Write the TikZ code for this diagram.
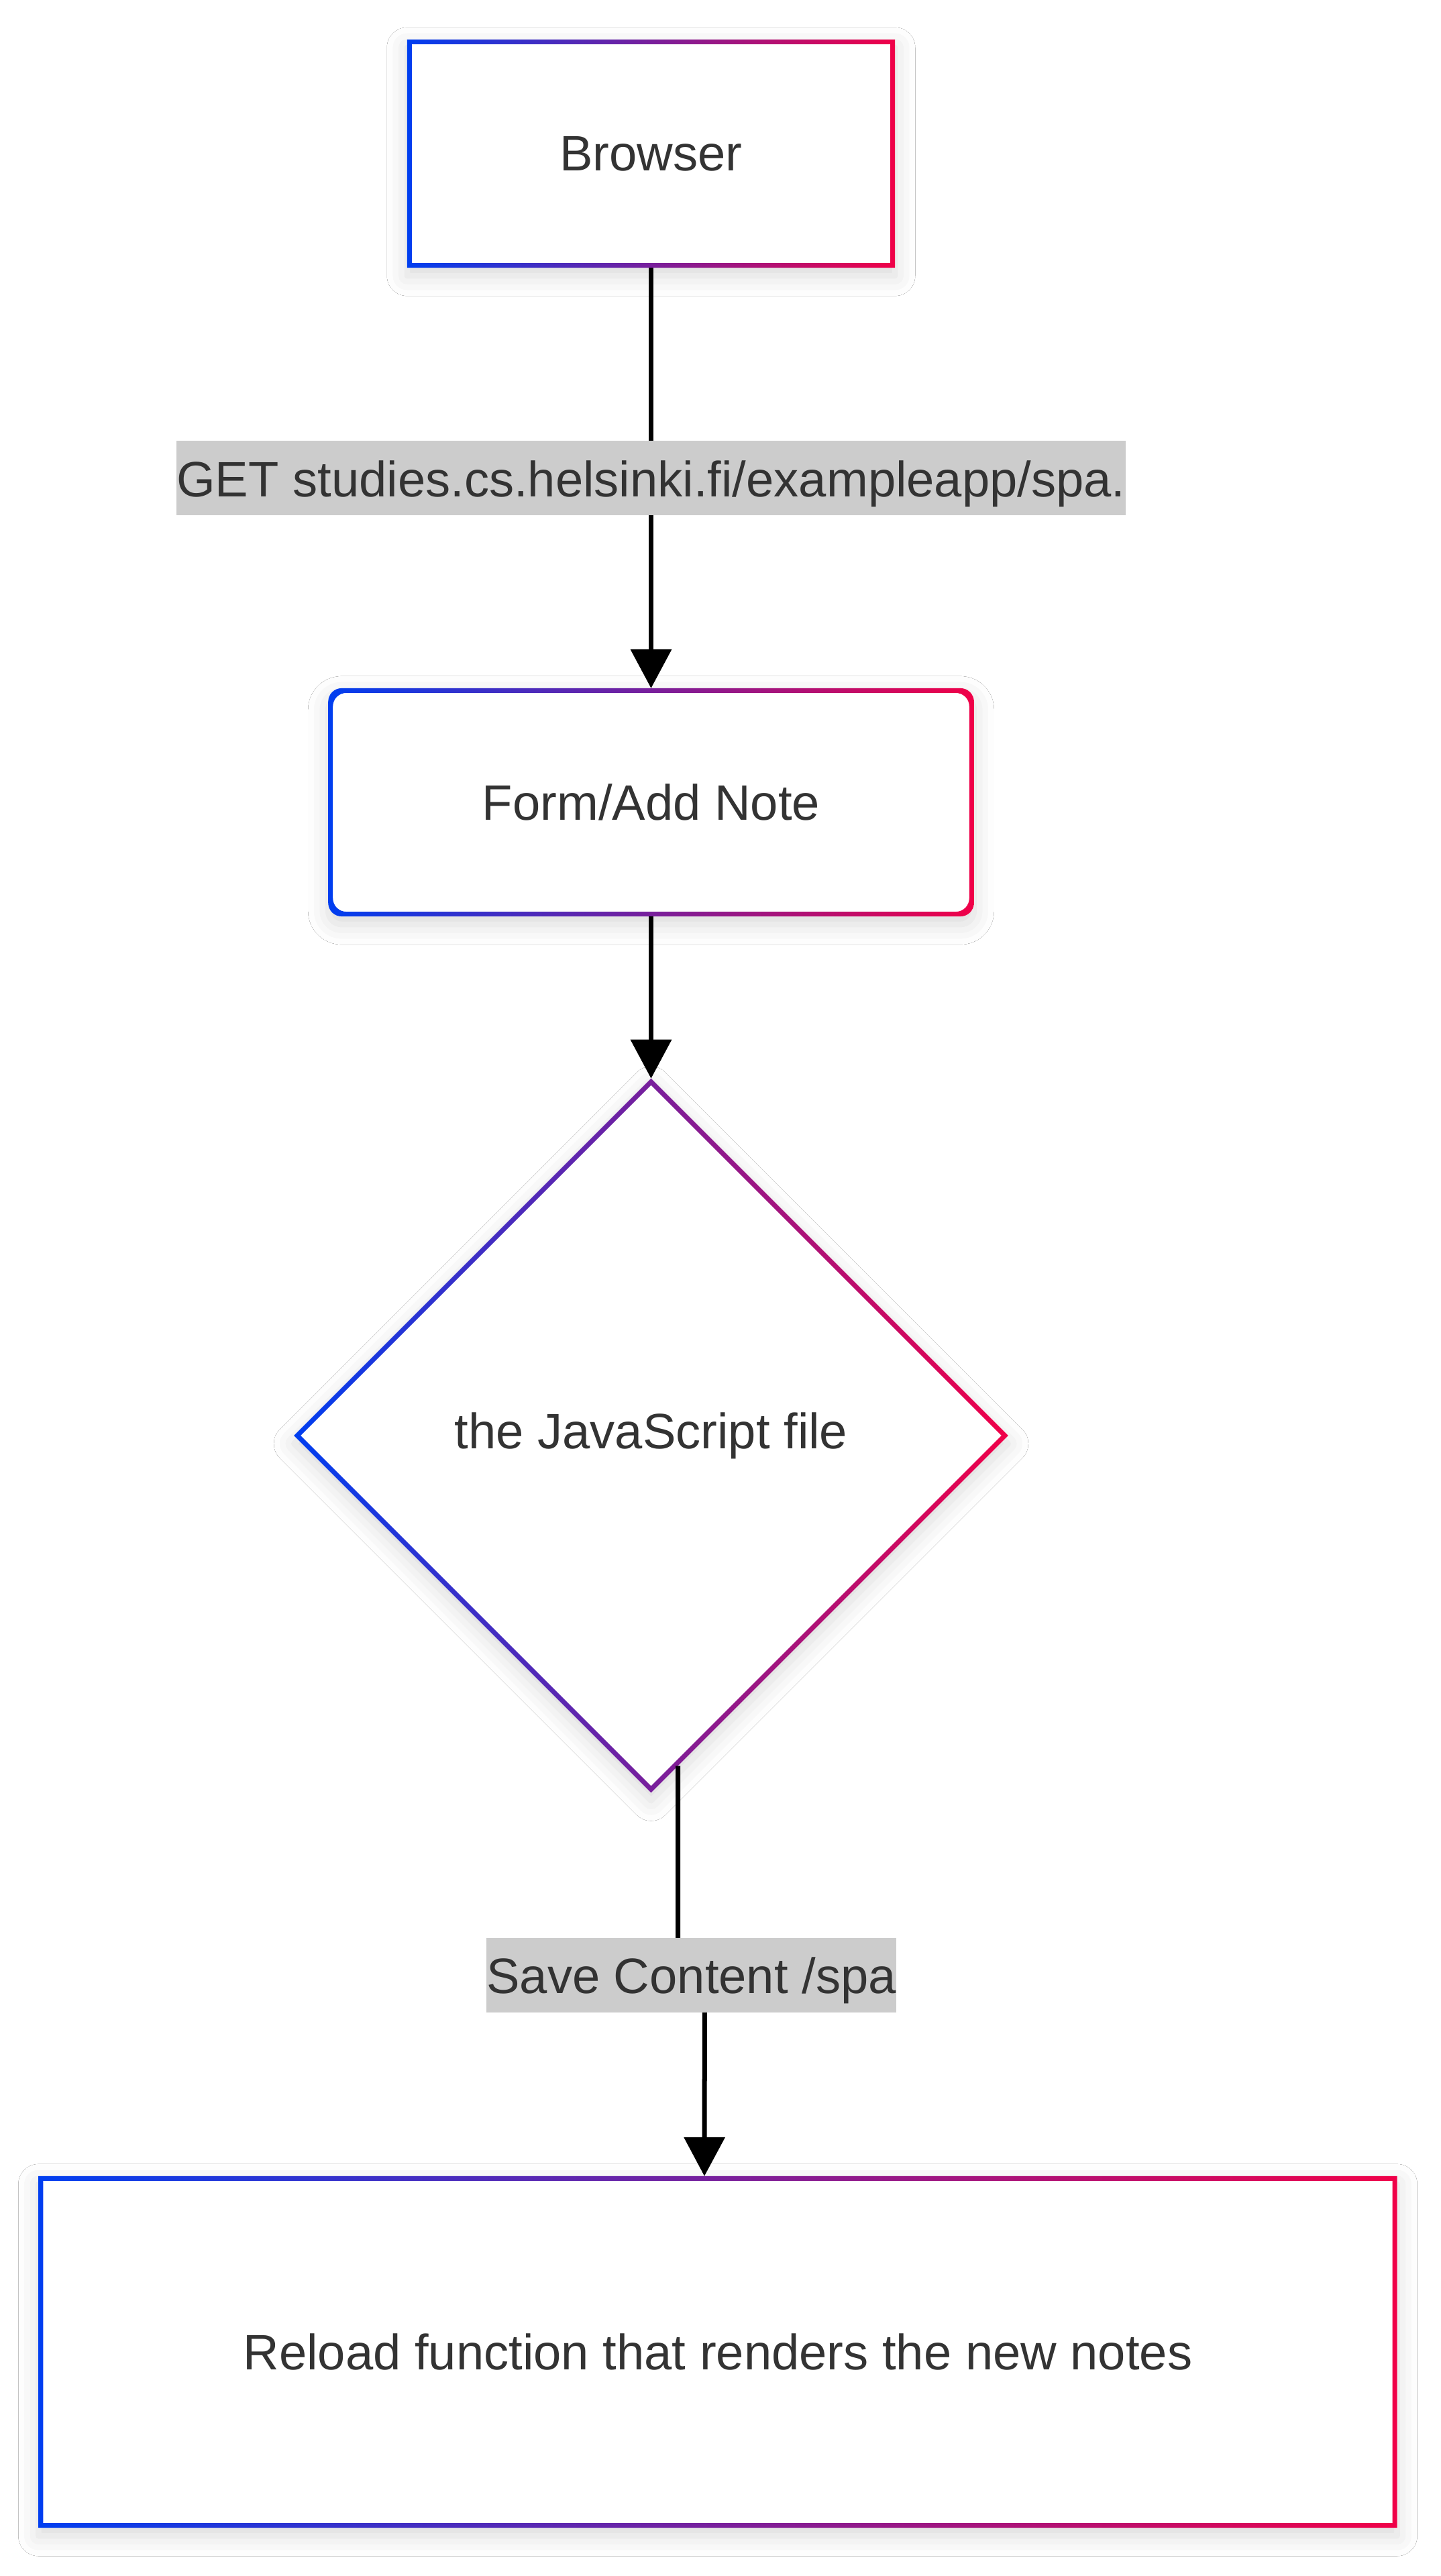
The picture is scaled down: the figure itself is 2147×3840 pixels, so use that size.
\documentclass[tikz,border=0pt]{standalone}
\usepackage{fontspec}
\setmainfont{Liberation Sans}
\usepackage{xcolor}
\usetikzlibrary{arrows.meta,shapes.geometric,shadows.blur}
\definecolor{mblue}{RGB}{0,62,240}
\definecolor{mred}{RGB}{240,0,72}
\definecolor{mtext}{RGB}{51,51,51}
\definecolor{mlabel}{RGB}{204,204,204}
\tikzset{
  box/.style={rectangle, fill=white, draw=none, outer sep=0pt, inner sep=0pt,
    text=mtext, font=\fontsize{21.1pt}{25pt}\selectfont,
    blur shadow={shadow xshift=0pt, shadow yshift=-0.12cm, shadow blur radius=0.3cm, shadow opacity=15}},
  decision/.style={box, shape=diamond, aspect=1},
  edgelabel/.style={fill=mlabel, text=mtext, inner xsep=0pt, inner ysep=0pt,
    text height=0.83cm, text depth=0.28cm, font=\fontsize{21.1pt}{25pt}\selectfont},
  flow/.style={draw=black, line width=0.07cm, -{Triangle[width=0.6cm,length=0.58cm]}}
}
\newcommand{\gradrect}[2]{%
  \shade[even odd rule, left color=mblue, right color=mred, rounded corners=#2]
    (#1.south west) rectangle (#1.north east)
    ([shift={(7,-7)}]#1.south west) rectangle ([shift={(-7,7)}]#1.north east);}
\newcommand{\graddiamond}[1]{%
  \shade[even odd rule, left color=mblue, right color=mred]
    (#1.north) -- (#1.east) -- (#1.south) -- (#1.west) -- cycle
    ([shift={(0,10)}]#1.north) -- ([shift={(-10,0)}]#1.east) --
    ([shift={(0,-10)}]#1.south) -- ([shift={(10,0)}]#1.west) -- cycle;}
\begin{document}
\begin{tikzpicture}[x=0.01cm, y=-0.01cm]
\useasboundingbox[fill=white] (0,0) rectangle (2147,3840);
\node[box, minimum width=7.27cm, minimum height=3.40cm] (browser) at (970.5,229) {Browser};
\node[box, rounded corners=0.2cm, minimum width=9.62cm, minimum height=3.40cm] (form) at (970.5,1196) {Form/Add Note};
\node[decision, minimum width=10.64cm, minimum height=10.64cm] (ajs) at (970.5,2140) {the JavaScript file};
\node[box, minimum width=20.24cm, minimum height=5.24cm] (reload) at (1070,3506) {Reload function that renders the new notes};
\gradrect{browser}{0pt}
\gradrect{form}{0.2cm}
\graddiamond{ajs}
\gradrect{reload}{0pt}
\draw[flow] (browser.south) -- node[edgelabel] (get) {GET studies.cs.helsinki.fi/exampleapp/spa.} (form.north);
\draw[flow] (form.south) -- (ajs.north);
\coordinate (s2) at ([shift={(40,-40)}]ajs.south);
\coordinate (e2) at ([xshift=-0.2cm]reload.north);
\draw[flow] (s2) -- ++(0,312) -- node[edgelabel] (save) {Save Content /spa} ++(40,0) -- (e2);
\end{tikzpicture}
\end{document}
